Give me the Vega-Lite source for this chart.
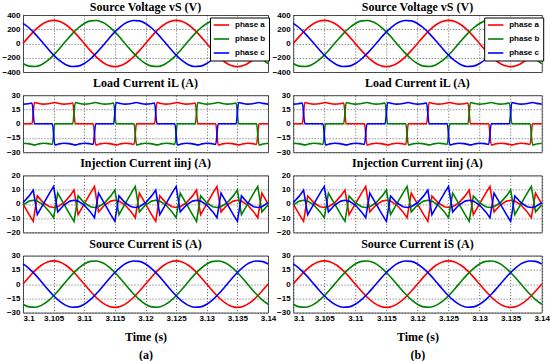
{
  "$schema": "https://vega.github.io/schema/vega-lite/v6.json",
  "padding": {"left": 1, "top": 0, "right": 2, "bottom": 0},
  "background": "white",
  "config": {
    "font": "Liberation Sans",
    "view": {"stroke": "#555", "strokeWidth": 1},
    "axis": {"labelFont": "Liberation Sans", "labelFontWeight": "bold", "labelFontSize": 8, "labelColor": "#000", "domain": false, "ticks": false, "grid": true, "gridColor": "#222", "gridDash": [1, 2], "gridOpacity": 0.9, "gridWidth": 0.8, "labelPadding": 3, "labelOverlap": false, "labelBound": false},
    "title": {"font": "Liberation Serif", "fontWeight": "bold", "fontSize": 12, "offset": 1, "color": "#000", "frame": "group"},
    "line": {"strokeWidth": 1.6, "clip": true}
  },
  "resolve": {"scale": {"color": "independent"}, "legend": {"color": "independent"}},
  "bounds": "flush",
  "align": "each",
  "columns": 2,
  "spacing": {"row": 23.2, "column": 25.2},
  "datasets": {
    "volt": [
      {"t": 3.100, "a": 0, "b": -281.5, "c": 281.5},
      {"t": 3.101, "a": 100.4, "b": -317.9, "c": 217.5},
      {"t": 3.102, "a": 191, "b": -323.2, "c": 132.2},
      {"t": 3.103, "a": 262.9, "b": -296.9, "c": 34},
      {"t": 3.104, "a": 309.1, "b": -241.5, "c": -67.6},
      {"t": 3.105, "a": 325, "b": -162.5, "c": -162.5},
      {"t": 3.106, "a": 309.1, "b": -67.6, "c": -241.5},
      {"t": 3.107, "a": 262.9, "b": 34, "c": -296.9},
      {"t": 3.108, "a": 191, "b": 132.2, "c": -323.2},
      {"t": 3.109, "a": 100.4, "b": 217.5, "c": -317.9},
      {"t": 3.110, "a": 0, "b": 281.5, "c": -281.5},
      {"t": 3.111, "a": -100.4, "b": 317.9, "c": -217.5},
      {"t": 3.112, "a": -191, "b": 323.2, "c": -132.2},
      {"t": 3.113, "a": -262.9, "b": 296.9, "c": -34},
      {"t": 3.114, "a": -309.1, "b": 241.5, "c": 67.6},
      {"t": 3.115, "a": -325, "b": 162.5, "c": 162.5},
      {"t": 3.116, "a": -309.1, "b": 67.6, "c": 241.5},
      {"t": 3.117, "a": -262.9, "b": -34, "c": 296.9},
      {"t": 3.118, "a": -191, "b": -132.2, "c": 323.2},
      {"t": 3.119, "a": -100.4, "b": -217.5, "c": 317.9},
      {"t": 3.120, "a": 0, "b": -281.5, "c": 281.5},
      {"t": 3.121, "a": 100.4, "b": -317.9, "c": 217.5},
      {"t": 3.122, "a": 191, "b": -323.2, "c": 132.2},
      {"t": 3.123, "a": 262.9, "b": -296.9, "c": 34},
      {"t": 3.124, "a": 309.1, "b": -241.5, "c": -67.6},
      {"t": 3.125, "a": 325, "b": -162.5, "c": -162.5},
      {"t": 3.126, "a": 309.1, "b": -67.6, "c": -241.5},
      {"t": 3.127, "a": 262.9, "b": 34, "c": -296.9},
      {"t": 3.128, "a": 191, "b": 132.2, "c": -323.2},
      {"t": 3.129, "a": 100.4, "b": 217.5, "c": -317.9},
      {"t": 3.130, "a": 0, "b": 281.5, "c": -281.5},
      {"t": 3.131, "a": -100.4, "b": 317.9, "c": -217.5},
      {"t": 3.132, "a": -191, "b": 323.2, "c": -132.2},
      {"t": 3.133, "a": -262.9, "b": 296.9, "c": -34},
      {"t": 3.134, "a": -309.1, "b": 241.5, "c": 67.6},
      {"t": 3.135, "a": -325, "b": 162.5, "c": 162.5},
      {"t": 3.136, "a": -309.1, "b": 67.6, "c": 241.5},
      {"t": 3.137, "a": -262.9, "b": -34, "c": 296.9},
      {"t": 3.138, "a": -191, "b": -132.2, "c": 323.2},
      {"t": 3.139, "a": -100.4, "b": -217.5, "c": 317.9},
      {"t": 3.140, "a": 0, "b": -281.5, "c": 281.5}
    ],
    "src": [
      {"t": 3.100, "a": 0, "b": -21.22, "c": 21.22},
      {"t": 3.101, "a": 7.57, "b": -23.96, "c": 16.39},
      {"t": 3.102, "a": 14.4, "b": -24.37, "c": 9.97},
      {"t": 3.103, "a": 19.82, "b": -22.38, "c": 2.56},
      {"t": 3.104, "a": 23.3, "b": -18.21, "c": -5.09},
      {"t": 3.105, "a": 24.5, "b": -12.25, "c": -12.25},
      {"t": 3.106, "a": 23.3, "b": -5.09, "c": -18.21},
      {"t": 3.107, "a": 19.82, "b": 2.56, "c": -22.38},
      {"t": 3.108, "a": 14.4, "b": 9.97, "c": -24.37},
      {"t": 3.109, "a": 7.57, "b": 16.39, "c": -23.96},
      {"t": 3.110, "a": 0, "b": 21.22, "c": -21.22},
      {"t": 3.111, "a": -7.57, "b": 23.96, "c": -16.39},
      {"t": 3.112, "a": -14.4, "b": 24.37, "c": -9.97},
      {"t": 3.113, "a": -19.82, "b": 22.38, "c": -2.56},
      {"t": 3.114, "a": -23.3, "b": 18.21, "c": 5.09},
      {"t": 3.115, "a": -24.5, "b": 12.25, "c": 12.25},
      {"t": 3.116, "a": -23.3, "b": 5.09, "c": 18.21},
      {"t": 3.117, "a": -19.82, "b": -2.56, "c": 22.38},
      {"t": 3.118, "a": -14.4, "b": -9.97, "c": 24.37},
      {"t": 3.119, "a": -7.57, "b": -16.39, "c": 23.96},
      {"t": 3.120, "a": 0, "b": -21.22, "c": 21.22},
      {"t": 3.121, "a": 7.57, "b": -23.96, "c": 16.39},
      {"t": 3.122, "a": 14.4, "b": -24.37, "c": 9.97},
      {"t": 3.123, "a": 19.82, "b": -22.38, "c": 2.56},
      {"t": 3.124, "a": 23.3, "b": -18.21, "c": -5.09},
      {"t": 3.125, "a": 24.5, "b": -12.25, "c": -12.25},
      {"t": 3.126, "a": 23.3, "b": -5.09, "c": -18.21},
      {"t": 3.127, "a": 19.82, "b": 2.56, "c": -22.38},
      {"t": 3.128, "a": 14.4, "b": 9.97, "c": -24.37},
      {"t": 3.129, "a": 7.57, "b": 16.39, "c": -23.96},
      {"t": 3.130, "a": 0, "b": 21.22, "c": -21.22},
      {"t": 3.131, "a": -7.57, "b": 23.96, "c": -16.39},
      {"t": 3.132, "a": -14.4, "b": 24.37, "c": -9.97},
      {"t": 3.133, "a": -19.82, "b": 22.38, "c": -2.56},
      {"t": 3.134, "a": -23.3, "b": 18.21, "c": 5.09},
      {"t": 3.135, "a": -24.5, "b": 12.25, "c": 12.25},
      {"t": 3.136, "a": -23.3, "b": 5.09, "c": 18.21},
      {"t": 3.137, "a": -19.82, "b": -2.56, "c": 22.38},
      {"t": 3.138, "a": -14.4, "b": -9.97, "c": 24.37},
      {"t": 3.139, "a": -7.57, "b": -16.39, "c": 23.96},
      {"t": 3.140, "a": 0, "b": -21.22, "c": 21.22}
    ],
    "load": [
      {"t": 3.10000, "a": 0, "b": -20.6, "c": 20.6},
      {"t": 3.10083, "a": 0, "b": -21, "c": 21},
      {"t": 3.10147, "a": 0, "b": -21.8, "c": 21.8},
      {"t": 3.10187, "a": 22.3, "b": -22.3, "c": 0},
      {"t": 3.10247, "a": 21.4, "b": -21.4, "c": 0},
      {"t": 3.10333, "a": 20.6, "b": -20.6, "c": 0},
      {"t": 3.10417, "a": 21, "b": -21, "c": 0},
      {"t": 3.10480, "a": 21.8, "b": -21.8, "c": 0},
      {"t": 3.10520, "a": 22.3, "b": 0, "c": -22.3},
      {"t": 3.10580, "a": 21.4, "b": 0, "c": -21.4},
      {"t": 3.10667, "a": 20.6, "b": 0, "c": -20.6},
      {"t": 3.10750, "a": 21, "b": 0, "c": -21},
      {"t": 3.10813, "a": 21.8, "b": 0, "c": -21.8},
      {"t": 3.10853, "a": 0, "b": 22.3, "c": -22.3},
      {"t": 3.10913, "a": 0, "b": 21.4, "c": -21.4},
      {"t": 3.11000, "a": 0, "b": 20.6, "c": -20.6},
      {"t": 3.11083, "a": 0, "b": 21, "c": -21},
      {"t": 3.11147, "a": 0, "b": 21.8, "c": -21.8},
      {"t": 3.11187, "a": -22.3, "b": 22.3, "c": 0},
      {"t": 3.11247, "a": -21.4, "b": 21.4, "c": 0},
      {"t": 3.11333, "a": -20.6, "b": 20.6, "c": 0},
      {"t": 3.11417, "a": -21, "b": 21, "c": 0},
      {"t": 3.11480, "a": -21.8, "b": 21.8, "c": 0},
      {"t": 3.11520, "a": -22.3, "b": 0, "c": 22.3},
      {"t": 3.11580, "a": -21.4, "b": 0, "c": 21.4},
      {"t": 3.11667, "a": -20.6, "b": 0, "c": 20.6},
      {"t": 3.11750, "a": -21, "b": 0, "c": 21},
      {"t": 3.11813, "a": -21.8, "b": 0, "c": 21.8},
      {"t": 3.11853, "a": 0, "b": -22.3, "c": 22.3},
      {"t": 3.11913, "a": 0, "b": -21.4, "c": 21.4},
      {"t": 3.12000, "a": 0, "b": -20.6, "c": 20.6},
      {"t": 3.12083, "a": 0, "b": -21, "c": 21},
      {"t": 3.12147, "a": 0, "b": -21.8, "c": 21.8},
      {"t": 3.12187, "a": 22.3, "b": -22.3, "c": 0},
      {"t": 3.12247, "a": 21.4, "b": -21.4, "c": 0},
      {"t": 3.12333, "a": 20.6, "b": -20.6, "c": 0},
      {"t": 3.12417, "a": 21, "b": -21, "c": 0},
      {"t": 3.12480, "a": 21.8, "b": -21.8, "c": 0},
      {"t": 3.12520, "a": 22.3, "b": 0, "c": -22.3},
      {"t": 3.12580, "a": 21.4, "b": 0, "c": -21.4},
      {"t": 3.12667, "a": 20.6, "b": 0, "c": -20.6},
      {"t": 3.12750, "a": 21, "b": 0, "c": -21},
      {"t": 3.12813, "a": 21.8, "b": 0, "c": -21.8},
      {"t": 3.12853, "a": 0, "b": 22.3, "c": -22.3},
      {"t": 3.12913, "a": 0, "b": 21.4, "c": -21.4},
      {"t": 3.13000, "a": 0, "b": 20.6, "c": -20.6},
      {"t": 3.13083, "a": 0, "b": 21, "c": -21},
      {"t": 3.13147, "a": 0, "b": 21.8, "c": -21.8},
      {"t": 3.13187, "a": -22.3, "b": 22.3, "c": 0},
      {"t": 3.13247, "a": -21.4, "b": 21.4, "c": 0},
      {"t": 3.13333, "a": -20.6, "b": 20.6, "c": 0},
      {"t": 3.13417, "a": -21, "b": 21, "c": 0},
      {"t": 3.13480, "a": -21.8, "b": 21.8, "c": 0},
      {"t": 3.13520, "a": -22.3, "b": 0, "c": 22.3},
      {"t": 3.13580, "a": -21.4, "b": 0, "c": 21.4},
      {"t": 3.13667, "a": -20.6, "b": 0, "c": 20.6},
      {"t": 3.13750, "a": -21, "b": 0, "c": 21},
      {"t": 3.13813, "a": -21.8, "b": 0, "c": 21.8},
      {"t": 3.13853, "a": 0, "b": -22.3, "c": 22.3},
      {"t": 3.13913, "a": 0, "b": -21.4, "c": 21.4},
      {"t": 3.14000, "a": 0, "b": -20.6, "c": 20.6}
    ],
    "inj": [
      {"t": 3.10000, "a": 0, "b": -0.78, "c": 0.78},
      {"t": 3.10100, "a": -7.57, "b": 1.96, "c": 5.61},
      {"t": 3.10167, "a": -12.25, "b": 2.5, "c": 9.75},
      {"t": 3.10233, "a": 5.61, "b": 1.96, "c": -7.57},
      {"t": 3.10333, "a": 0.78, "b": -0.78, "c": 0},
      {"t": 3.10433, "a": -1.96, "b": -5.61, "c": 7.57},
      {"t": 3.10500, "a": -2.5, "b": -9.75, "c": 12.25},
      {"t": 3.10567, "a": -1.96, "b": 7.57, "c": -5.61},
      {"t": 3.10667, "a": 0.78, "b": 0, "c": -0.78},
      {"t": 3.10767, "a": 5.61, "b": -7.57, "c": 1.96},
      {"t": 3.10833, "a": 9.75, "b": -12.25, "c": 2.5},
      {"t": 3.10900, "a": -7.57, "b": 5.61, "c": 1.96},
      {"t": 3.11000, "a": 0, "b": 0.78, "c": -0.78},
      {"t": 3.11100, "a": 7.57, "b": -1.96, "c": -5.61},
      {"t": 3.11167, "a": 12.25, "b": -2.5, "c": -9.75},
      {"t": 3.11233, "a": -5.61, "b": -1.96, "c": 7.57},
      {"t": 3.11333, "a": -0.78, "b": 0.78, "c": 0},
      {"t": 3.11433, "a": 1.96, "b": 5.61, "c": -7.57},
      {"t": 3.11500, "a": 2.5, "b": 9.75, "c": -12.25},
      {"t": 3.11567, "a": 1.96, "b": -7.57, "c": 5.61},
      {"t": 3.11667, "a": -0.78, "b": 0, "c": 0.78},
      {"t": 3.11767, "a": -5.61, "b": 7.57, "c": -1.96},
      {"t": 3.11833, "a": -9.75, "b": 12.25, "c": -2.5},
      {"t": 3.11900, "a": 7.57, "b": -5.61, "c": -1.96},
      {"t": 3.12000, "a": 0, "b": -0.78, "c": 0.78},
      {"t": 3.12100, "a": -7.57, "b": 1.96, "c": 5.61},
      {"t": 3.12167, "a": -12.25, "b": 2.5, "c": 9.75},
      {"t": 3.12233, "a": 5.61, "b": 1.96, "c": -7.57},
      {"t": 3.12333, "a": 0.78, "b": -0.78, "c": 0},
      {"t": 3.12433, "a": -1.96, "b": -5.61, "c": 7.57},
      {"t": 3.12500, "a": -2.5, "b": -9.75, "c": 12.25},
      {"t": 3.12567, "a": -1.96, "b": 7.57, "c": -5.61},
      {"t": 3.12667, "a": 0.78, "b": 0, "c": -0.78},
      {"t": 3.12767, "a": 5.61, "b": -7.57, "c": 1.96},
      {"t": 3.12833, "a": 9.75, "b": -12.25, "c": 2.5},
      {"t": 3.12900, "a": -7.57, "b": 5.61, "c": 1.96},
      {"t": 3.13000, "a": 0, "b": 0.78, "c": -0.78},
      {"t": 3.13100, "a": 7.57, "b": -1.96, "c": -5.61},
      {"t": 3.13167, "a": 12.25, "b": -2.5, "c": -9.75},
      {"t": 3.13233, "a": -5.61, "b": -1.96, "c": 7.57},
      {"t": 3.13333, "a": -0.78, "b": 0.78, "c": 0},
      {"t": 3.13433, "a": 1.96, "b": 5.61, "c": -7.57},
      {"t": 3.13500, "a": 2.5, "b": 9.75, "c": -12.25},
      {"t": 3.13567, "a": 1.96, "b": -7.57, "c": 5.61},
      {"t": 3.13667, "a": -0.78, "b": 0, "c": 0.78},
      {"t": 3.13767, "a": -5.61, "b": 7.57, "c": -1.96},
      {"t": 3.13833, "a": -9.75, "b": 12.25, "c": -2.5},
      {"t": 3.13900, "a": 7.57, "b": -5.61, "c": -1.96},
      {"t": 3.14000, "a": 0, "b": -0.78, "c": 0.78}
    ]
  },
  "concat": [
    {
      "width": 245, "height": 57,
      "title": {"text": "Source Voltage vS (V)", "offset": -2.5},
      "data": {"name": "volt"},
      "transform": [{"fold": ["a", "b", "c"], "as": ["phase", "value"]}],
      "mark": {"type": "line", "interpolate": "monotone"},
      "encoding": {
        "x": {"field": "t", "type": "quantitative", "scale": {"domain": [3.1, 3.14], "nice": false, "zero": false}, "axis": {"values": [3.1, 3.105, 3.11, 3.115, 3.12, 3.125, 3.13, 3.135, 3.14], "labels": false, "title": null}},
        "y": {"field": "value", "type": "quantitative", "scale": {"domain": [-400, 400], "nice": false}, "axis": {"values": [-400, -200, 0, 200, 400], "title": null}},
        "color": {"field": "phase", "type": "nominal", "scale": {"domain": ["a", "b", "c"], "range": ["#ff0000", "#008000", "#0000ff"]},
          "legend": {"orient": "none", "legendX": 187, "legendY": 2.5, "title": null, "labelExpr": "'phase ' + datum.label", "symbolType": "M-2.2,0H2.2", "symbolSize": 49, "symbolStrokeWidth": 2, "symbolOffset": 4, "labelOffset": 9, "labelFont": "Liberation Sans", "labelFontWeight": "bold", "labelFontSize": 8, "labelColor": "#000", "fillColor": "white", "strokeColor": "#000", "padding": 3, "rowPadding": 5}}
      }
    },
    {
      "width": 248.5, "height": 57,
      "title": {"text": "Source Voltage vS (V)", "offset": -2.5},
      "data": {"name": "volt"},
      "transform": [{"fold": ["a", "b", "c"], "as": ["phase", "value"]}],
      "mark": {"type": "line", "interpolate": "monotone"},
      "encoding": {
        "x": {"field": "t", "type": "quantitative", "scale": {"domain": [3.1, 3.14], "nice": false, "zero": false}, "axis": {"values": [3.1, 3.105, 3.11, 3.115, 3.12, 3.125, 3.13, 3.135, 3.14], "labels": false, "title": null}},
        "y": {"field": "value", "type": "quantitative", "scale": {"domain": [-400, 400], "nice": false}, "axis": {"values": [-400, -200, 0, 200, 400], "title": null}},
        "color": {"field": "phase", "type": "nominal", "scale": {"domain": ["a", "b", "c"], "range": ["#ff0000", "#008000", "#0000ff"]},
          "legend": {"orient": "none", "legendX": 191, "legendY": 2.5, "title": null, "labelExpr": "'phase ' + datum.label", "symbolType": "M-2.2,0H2.2", "symbolSize": 49, "symbolStrokeWidth": 2, "symbolOffset": 4, "labelOffset": 9, "labelFont": "Liberation Sans", "labelFontWeight": "bold", "labelFontSize": 8, "labelColor": "#000", "fillColor": "white", "strokeColor": "#000", "padding": 3, "rowPadding": 5}}
      }
    },
    {
      "width": 245, "height": 57,
      "title": "Load Current iL (A)",
      "data": {"name": "load"},
      "transform": [{"fold": ["a", "b", "c"], "as": ["phase", "value"]}],
      "mark": {"type": "line", "interpolate": "monotone"},
      "encoding": {
        "x": {"field": "t", "type": "quantitative", "scale": {"domain": [3.1, 3.14], "nice": false, "zero": false}, "axis": {"values": [3.1, 3.105, 3.11, 3.115, 3.12, 3.125, 3.13, 3.135, 3.14], "labels": false, "title": null}},
        "y": {"field": "value", "type": "quantitative", "scale": {"domain": [-30, 30], "nice": false}, "axis": {"values": [-30, -15, 0, 15, 30], "title": null}},
        "color": {"field": "phase", "type": "nominal", "scale": {"domain": ["a", "b", "c"], "range": ["#ff0000", "#008000", "#0000ff"]}, "legend": null}
      }
    },
    {
      "width": 248.5, "height": 57,
      "title": "Load Current iL (A)",
      "data": {"name": "load"},
      "transform": [{"fold": ["a", "b", "c"], "as": ["phase", "value"]}],
      "mark": {"type": "line", "interpolate": "monotone"},
      "encoding": {
        "x": {"field": "t", "type": "quantitative", "scale": {"domain": [3.1, 3.14], "nice": false, "zero": false}, "axis": {"values": [3.1, 3.105, 3.11, 3.115, 3.12, 3.125, 3.13, 3.135, 3.14], "labels": false, "title": null}},
        "y": {"field": "value", "type": "quantitative", "scale": {"domain": [-30, 30], "nice": false}, "axis": {"values": [-30, -15, 0, 15, 30], "title": null}},
        "color": {"field": "phase", "type": "nominal", "scale": {"domain": ["a", "b", "c"], "range": ["#ff0000", "#008000", "#0000ff"]}, "legend": null}
      }
    },
    {
      "width": 245, "height": 57,
      "title": "Injection Current iinj (A)",
      "data": {"name": "inj"},
      "transform": [{"fold": ["a", "b", "c"], "as": ["phase", "value"]}],
      "mark": {"type": "line"},
      "encoding": {
        "x": {"field": "t", "type": "quantitative", "scale": {"domain": [3.1, 3.14], "nice": false, "zero": false}, "axis": {"values": [3.1, 3.105, 3.11, 3.115, 3.12, 3.125, 3.13, 3.135, 3.14], "labels": false, "title": null}},
        "y": {"field": "value", "type": "quantitative", "scale": {"domain": [-20, 20], "nice": false}, "axis": {"values": [-20, -10, 0, 10, 20], "title": null}},
        "color": {"field": "phase", "type": "nominal", "scale": {"domain": ["a", "b", "c"], "range": ["#ff0000", "#008000", "#0000ff"]}, "legend": null}
      }
    },
    {
      "width": 248.5, "height": 57,
      "title": "Injection Current iinj (A)",
      "data": {"name": "inj"},
      "transform": [{"fold": ["a", "b", "c"], "as": ["phase", "value"]}],
      "mark": {"type": "line"},
      "encoding": {
        "x": {"field": "t", "type": "quantitative", "scale": {"domain": [3.1, 3.14], "nice": false, "zero": false}, "axis": {"values": [3.1, 3.105, 3.11, 3.115, 3.12, 3.125, 3.13, 3.135, 3.14], "labels": false, "title": null}},
        "y": {"field": "value", "type": "quantitative", "scale": {"domain": [-20, 20], "nice": false}, "axis": {"values": [-20, -10, 0, 10, 20], "title": null}},
        "color": {"field": "phase", "type": "nominal", "scale": {"domain": ["a", "b", "c"], "range": ["#ff0000", "#008000", "#0000ff"]}, "legend": null}
      }
    },
    {
      "width": 245, "height": 57,
      "title": "Source Current iS (A)",
      "data": {"name": "src"},
      "transform": [{"fold": ["a", "b", "c"], "as": ["phase", "value"]}],
      "mark": {"type": "line", "interpolate": "monotone"},
      "encoding": {
        "x": {"field": "t", "type": "quantitative", "scale": {"domain": [3.1, 3.14], "nice": false, "zero": false}, "axis": {"values": [3.1, 3.105, 3.11, 3.115, 3.12, 3.125, 3.13, 3.135, 3.14], "format": ".4~g", "labelFlush": false, "labelPadding": 2, "labelAlign": {"condition": {"test": "datum.value < 3.1001", "value": "left"}, "value": "center"}, "title": ["Time (s)", "(a)"], "titleFont": "Liberation Serif", "titleFontWeight": "bold", "titleFontSize": 12, "titlePadding": 8.5, "titleLineHeight": 18}},
        "y": {"field": "value", "type": "quantitative", "scale": {"domain": [-30, 30], "nice": false}, "axis": {"values": [-30, -15, 0, 15, 30], "title": null}},
        "color": {"field": "phase", "type": "nominal", "scale": {"domain": ["a", "b", "c"], "range": ["#ff0000", "#008000", "#0000ff"]}, "legend": null}
      }
    },
    {
      "width": 248.5, "height": 57,
      "title": "Source Current iS (A)",
      "data": {"name": "src"},
      "transform": [{"fold": ["a", "b", "c"], "as": ["phase", "value"]}],
      "mark": {"type": "line", "interpolate": "monotone"},
      "encoding": {
        "x": {"field": "t", "type": "quantitative", "scale": {"domain": [3.1, 3.14], "nice": false, "zero": false}, "axis": {"values": [3.1, 3.105, 3.11, 3.115, 3.12, 3.125, 3.13, 3.135, 3.14], "format": ".4~g", "labelFlush": false, "labelPadding": 2, "labelAlign": {"condition": {"test": "datum.value < 3.1001", "value": "left"}, "value": "center"}, "title": ["Time (s)", "(b)"], "titleFont": "Liberation Serif", "titleFontWeight": "bold", "titleFontSize": 12, "titlePadding": 8.5, "titleLineHeight": 18}},
        "y": {"field": "value", "type": "quantitative", "scale": {"domain": [-30, 30], "nice": false}, "axis": {"values": [-30, -15, 0, 15, 30], "title": null}},
        "color": {"field": "phase", "type": "nominal", "scale": {"domain": ["a", "b", "c"], "range": ["#ff0000", "#008000", "#0000ff"]}, "legend": null}
      }
    }
  ]
}
